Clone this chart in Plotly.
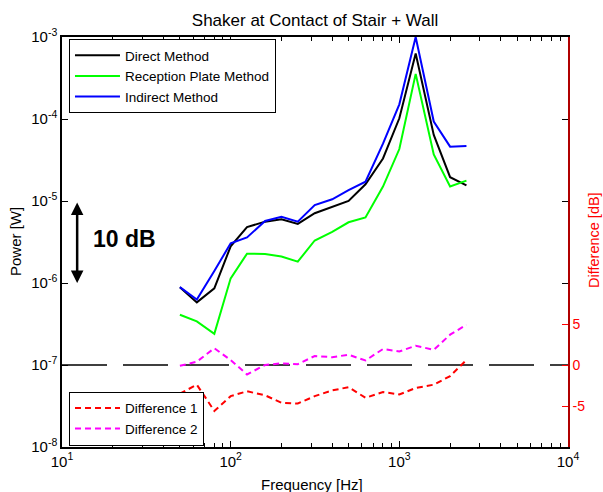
import plotly.graph_objects as go
import numpy as np

freq = [50, 63, 80, 100, 125, 160, 200, 250, 315, 400, 500, 630, 800, 1000, 1250, 1600, 2000, 2500]

direct = [8.9e-7, 5.8e-7, 8.6e-7, 2.8e-6, 4.8e-6, 5.6e-6, 6.0e-6, 5.25e-6, 7.1e-6, 8.5e-6,
          1.0e-5, 1.6e-5, 3.3e-5, 1.02e-4, 6.3e-4, 6.4e-5, 1.95e-5, 1.55e-5]
reception = [4.1e-7, 3.4e-7, 2.4e-7, 1.14e-6, 2.28e-6, 2.26e-6, 2.1e-6, 1.82e-6, 3.3e-6, 4.2e-6,
             5.5e-6, 6.3e-6, 1.5e-5, 4.3e-5, 3.55e-4, 3.7e-5, 1.5e-5, 1.77e-5]
indirect = [8.9e-7, 6.3e-7, 1.4e-6, 3.05e-6, 3.6e-6, 5.7e-6, 6.4e-6, 5.6e-6, 8.9e-6, 1.05e-5,
            1.36e-5, 1.72e-5, 5.0e-5, 1.51e-4, 1.0e-3, 9.3e-5, 4.6e-5, 4.7e-5]
diff1 = [-3.5, -2.4, -5.6, -3.8, -3.2, -3.7, -4.6, -4.7, -3.8, -3.1,
         -2.7, -4.0, -3.3, -3.6, -2.8, -2.4, -1.35, 0.6]
diff2 = [-0.1, 0.4, 2.05, 0.6, -1.15, 0.0, 0.2, 0.1, 1.1, 0.95,
         1.25, 0.55, 1.95, 1.65, 2.35, 1.85, 3.7, 4.9]

x_tickvals = [10, 100, 1000, 10000]
x_ticktext = ["10<sup>1</sup>", "10<sup>2</sup>", "10<sup>3</sup>", "10<sup>4</sup>"]
x_minor_vals = [m * d for d in (10, 100, 1000) for m in range(2, 10)]
y_tickvals = [1e-8, 1e-7, 1e-6, 1e-5, 1e-4, 1e-3]
y_ticktext = ["10<sup>-8</sup>", "10<sup>-7</sup>", "10<sup>-6</sup>",
              "10<sup>-5</sup>", "10<sup>-4</sup>", "10<sup>-3</sup>"]
y2_tickvals = [-5, 0, 5]
y2_ticktext = ["-5", "0", "5"]

zero_x = [10, 10000]
zero_y = [0, 0]

arrow_freq = 12.3
arrow_top = 1e-5
arrow_bottom = 1e-6
label_freq = 14.9
label_power = 3.45e-6

FONT = "Arial, Liberation Sans, sans-serif"

fig = go.Figure()

# empty traces registering the minor-tick helper axes
fig.add_trace(go.Scatter(x=x_tickvals, y=y_tickvals[:4], mode="none", xaxis="x2", yaxis="y",
                         showlegend=False, hoverinfo="skip"))
fig.add_trace(go.Scatter(x=x_tickvals, y=y_tickvals[:4], mode="none", xaxis="x3", yaxis="y",
                         showlegend=False, hoverinfo="skip"))

fig.add_trace(go.Scatter(x=zero_x, y=zero_y, mode="lines", yaxis="y2",
                         line=dict(color="black", width=1.3, dash="45px,16px"),
                         showlegend=False, hoverinfo="skip"))

fig.add_trace(go.Scatter(x=freq, y=direct, mode="lines", name="Direct Method",
                         line=dict(color="#000000", width=2), legend="legend"))
fig.add_trace(go.Scatter(x=freq, y=reception, mode="lines", name="Reception Plate Method",
                         line=dict(color="#00ff00", width=2), legend="legend"))
fig.add_trace(go.Scatter(x=freq, y=indirect, mode="lines", name="Indirect Method",
                         line=dict(color="#0000ff", width=2), legend="legend"))
fig.add_trace(go.Scatter(x=freq, y=diff1, mode="lines", name="Difference 1", yaxis="y2",
                         line=dict(color="#ff0000", width=2, dash="6px,4px"), legend="legend2"))
fig.add_trace(go.Scatter(x=freq, y=diff2, mode="lines", name="Difference 2", yaxis="y2",
                         line=dict(color="#ff00ff", width=2, dash="6px,4px"), legend="legend2"))

minor_axis = dict(type="log", range=[1, 4], overlaying="x", anchor="y",
                  tickmode="array", tickvals=x_minor_vals, showticklabels=False,
                  ticks="inside", ticklen=4, tickcolor="black", tickwidth=1.2,
                  showline=False, showgrid=False, zeroline=False, automargin=False)

fig.update_layout(
    width=603, height=492,
    margin=dict(l=62, r=35, t=37, b=45),
    paper_bgcolor="white", plot_bgcolor="white",
    font=dict(family=FONT, size=14, color="black"),
    title=dict(text="Shaker at Contact of Stair + Wall", x=0.5225, xanchor="center",
               y=1 - 20 / 492, yanchor="middle", font=dict(size=17, color="black")),
    xaxis=dict(type="log", range=[1, 4], tickmode="array", tickvals=x_tickvals, ticktext=x_ticktext,
               ticks="inside", ticklen=6, tickcolor="black", tickwidth=1.2,
               showline=True, linecolor="black", linewidth=1.5, mirror="ticks",
               showgrid=False, zeroline=False, automargin=False,
               tickfont=dict(size=15)),
    xaxis2=dict(minor_axis, side="top"),
    xaxis3=dict(minor_axis, side="bottom"),
    yaxis=dict(type="log", range=[-8, -3], tickmode="array", tickvals=y_tickvals, ticktext=y_ticktext,
               ticks="inside", ticklen=6, tickcolor="black", tickwidth=1.2,
               showline=True, linecolor="black", linewidth=1.5, mirror="ticks",
               showgrid=False, zeroline=False, automargin=False,
               tickfont=dict(size=15)),
    yaxis2=dict(overlaying="y", side="right", range=[-10, 40],
                tickmode="array", tickvals=y2_tickvals, ticktext=y2_ticktext,
                ticks="inside", ticklen=6, tickcolor="#ff0000", tickwidth=1.2,
                showline=True, linecolor="#b00000", linewidth=1.5,
                showgrid=False, zeroline=False, automargin=False,
                tickfont=dict(size=14, color="#ff0000")),
    legend=dict(x=0.0138, y=0.995, xanchor="left", yanchor="top",
                bgcolor="white", bordercolor="black", borderwidth=1,
                font=dict(size=13.5, family=FONT), itemwidth=45,
                tracegroupgap=0),
    legend2=dict(x=0.0138, y=0.135, xanchor="left", yanchor="top",
                 bgcolor="white", bordercolor="black", borderwidth=1,
                 font=dict(size=13.5, family=FONT), itemwidth=45,
                 tracegroupgap=0),
    showlegend=True,
)

fig.add_annotation(x=np.log10(arrow_freq), y=np.log10(arrow_bottom),
                   ax=np.log10(arrow_freq), ay=np.log10(arrow_top),
                   xref="x", yref="y", axref="x", ayref="y",
                   showarrow=True, arrowhead=2, startarrowhead=2, arrowside="end+start",
                   arrowwidth=2.5, arrowsize=1, startarrowsize=1, arrowcolor="black", text="")
fig.add_annotation(x=np.log10(label_freq), y=np.log10(label_power), xref="x", yref="y",
                   text="<b>10 dB</b>", showarrow=False, xanchor="left", yanchor="middle",
                   font=dict(size=23, color="black", family=FONT))

# axis titles
fig.add_annotation(x=(312 - 62) / 506, y=-(484 - 447) / 410, xref="paper", yref="paper",
                   text="Frequency [Hz]", showarrow=False, xanchor="center", yanchor="middle",
                   font=dict(size=15, color="black"))
fig.add_annotation(x=-(62 - 15) / 506, y=(447 - 242) / 410, xref="paper", yref="paper",
                   text="Power [W]", showarrow=False, textangle=-90,
                   xanchor="center", yanchor="middle", font=dict(size=15, color="black"))
fig.add_annotation(x=(594 - 62) / 506, y=(447 - 240) / 410, xref="paper", yref="paper",
                   text="Difference [dB]", showarrow=False, textangle=-90,
                   xanchor="center", yanchor="middle", font=dict(size=14.5, color="#ff0000"))

fig.write_html("out.html")
